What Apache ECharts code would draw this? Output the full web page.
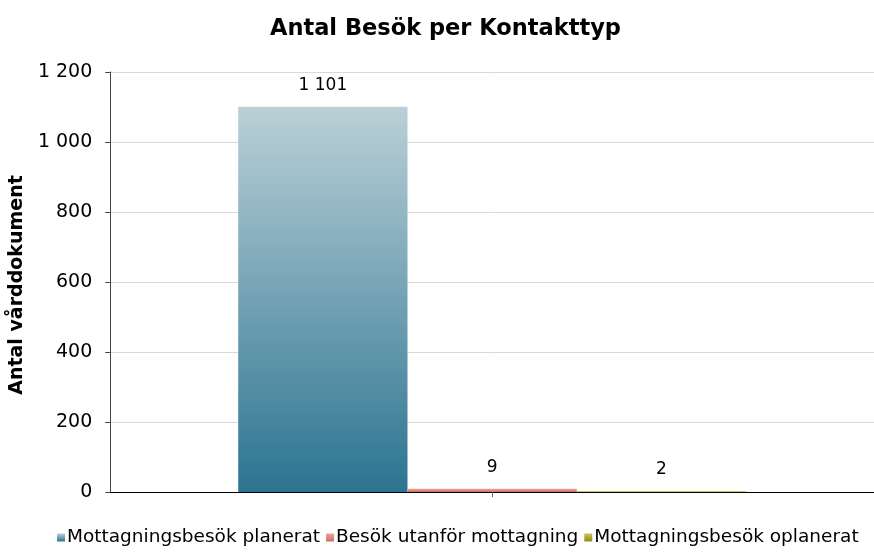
<!DOCTYPE html>
<html><head><meta charset="utf-8">
<script src="https://cdn.jsdelivr.net/npm/echarts@6/dist/echarts.min.js"></script>
<style>html,body{margin:0;padding:0;background:#fff}#c{width:874px;height:554px}</style>
</head><body><div id="c"></div>
<script>
const categories = ['Kontakttyp'];
const seriesNames = ['Mottagningsbesök planerat', 'Besök utanför mottagning', 'Mottagningsbesök oplanerat'];
const seriesValues = [[1101], [9], [2]];
const yTicks = [0, 200, 400, 600, 800, 1000, 1200];

const gradients = [
  ['#bad0d7', '#2c7491'],
  ['#e9a696', '#c9705f'],
  ['#c8c455', '#8f8a1e']
];
function fmt(v){ return String(v).replace(/\B(?=(\d{3})+(?!\d))/g, ' '); }
const font = 'DejaVu Sans';
const chart = echarts.init(document.getElementById('c'));
chart.setOption({
  animation: false,
  title: { text: 'Antal Besök per Kontakttyp', left: 265, top: 13,
    textStyle: { fontFamily: font, fontSize: 22.5, fontWeight: 'bold', color: '#000' } },
  grid: { left: 110, right: -10, top: 72, bottom: 62 },
  legend: { bottom: 2, left: 52, width: 840, itemWidth: 8, itemHeight: 8, itemGap: 6, icon: 'rect',
    textStyle: { fontFamily: font, fontSize: 18.5, color: '#000', padding: [0,0,0,-3] },
    data: seriesNames },
  xAxis: { type: 'category', data: categories,
    axisLine: { lineStyle: { color: '#000' } },
    axisTick: { show: true, alignWithLabel: true, length: 5, lineStyle: { color: '#666' } },
    axisLabel: { show: false } },
  yAxis: { type: 'value', min: 0, max: 1200, interval: 200,
    name: 'Antal vårddokument', nameLocation: 'middle', nameGap: 80, nameRotate: 90,
    nameTextStyle: { fontFamily: font, fontSize: 19, fontWeight: 'bold', color: '#000', padding: [0,0,0,-6] },
    axisLine: { show: true, lineStyle: { color: '#444' } },
    axisTick: { show: true, length: 5, lineStyle: { color: '#444' } },
    splitLine: { lineStyle: { color: '#d9d9d9' } },
    axisLabel: { fontFamily: font, fontSize: 19, color: '#000', margin: 18, formatter: v => fmt(v) } },
  series: seriesNames.map((n, i) => ({
    name: n, type: 'bar', data: seriesValues[i],
    barGap: '0%', barCategoryGap: '33.5%',
    itemStyle: { color: new echarts.graphic.LinearGradient(0, 0, 0, 1, [
      { offset: 0, color: gradients[i][0] }, { offset: 1, color: gradients[i][1] }]) },
    label: { show: true, position: 'top', distance: 13, fontFamily: font, fontSize: 17, color: '#000',
      formatter: p => fmt(p.value) }
  }))
});
</script></body></html>
